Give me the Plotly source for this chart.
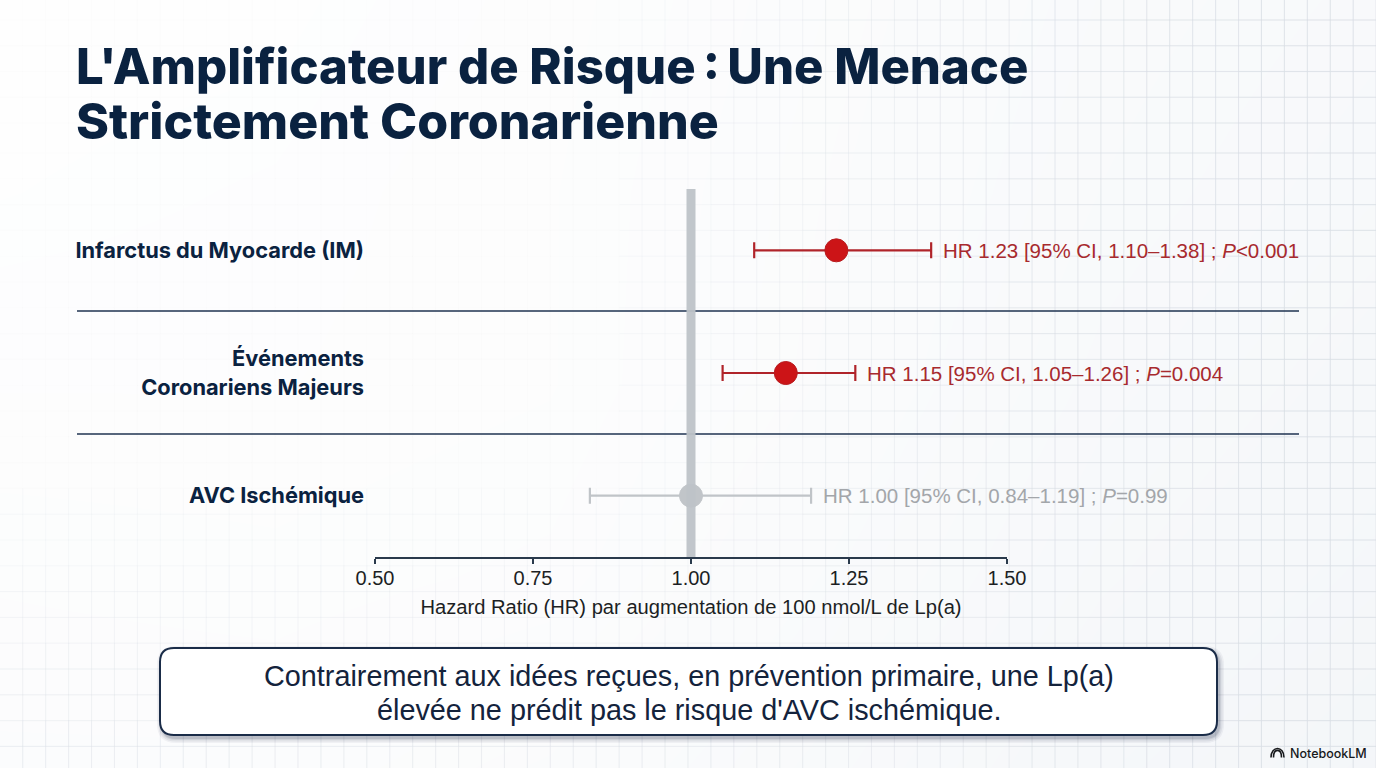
import plotly.graph_objects as go

# Forest plot data
outcomes = ["AVC Ischémique", "Événements<br>Coronariens Majeurs", "Infarctus du Myocarde (IM)"]
hazard_ratios = [1.00, 1.15, 1.23]
ci_low = [0.84, 1.05, 1.10]
ci_high = [1.19, 1.26, 1.38]
p_labels = ["=0.99", "=0.004", "<0.001"]
dot_colors = ["#c1c5c9", "#cc1417", "#cc1417"]
dot_edges = ["#c1c5c9", "#b81d20", "#b81d20"]
ci_colors = ["#c0c4c8", "#b0242a", "#b0242a"]
text_colors = ["#a3a6aa", "#a82a2e", "#a82a2e"]
x_ticks = [0.50, 0.75, 1.00, 1.25, 1.50]
reference_hr = 1.00

title_lines = ["L'Amplificateur de Risque\u202f:\u202fUne Menace", "Strictement Coronarienne"]
title_sizes = [49, 50]
axis_title = "Hazard Ratio (HR) par augmentation de 100 nmol/L de Lp(a)"
callout_lines = ["Contrairement aux idées reçues, en prévention primaire, une Lp(a)",
                 "élevée ne prédit pas le risque d'AVC ischémique."]

W, H = 1376, 768
NAVY = "#0a2240"
BODY = "Liberation Sans, Arial, sans-serif"
HEAD = "Inter, Liberation Sans, sans-serif"

fig = go.Figure()

# Page background: a very soft tint, darker towards the lower right
tint = [[0.02, 0.03, 0.10, 0.25, 0.42, 0.52],
        [0.04, 0.06, 0.12, 0.28, 0.46, 0.58],
        [0.08, 0.08, 0.12, 0.30, 0.52, 0.66],
        [0.16, 0.14, 0.18, 0.38, 0.60, 0.74],
        [0.22, 0.22, 0.30, 0.48, 0.70, 0.85]]
fig.add_trace(go.Heatmap(
    z=tint,
    x=[0, W / 5, 2 * W / 5, 3 * W / 5, 4 * W / 5, W],
    y=[0, H / 4, H / 2, 3 * H / 4, H],
    zsmooth="best", zmin=0, zmax=1, showscale=False, hoverinfo="skip",
    colorscale=[[0, "#fefefe"], [1, "#f2f5f8"]],
))

# Graph-paper lines that fade out over the centre and upper left of the page
grid_x = [22.7 + 22.94 * k for k in range(60)]
grid_y = [20 + 25.75 * k for k in range(5)] + [153 + 25.8 * k for k in range(24)]


def grid_strength(x, y):
    right = max(0.0, (x - 560) / 760)
    low = max(0.0, (y - 440) / 320) * 0.5
    return min(1.0, max(right, low))


levels = [0.08, 0.2, 0.32, 0.45, 0.6, 0.75, 0.9, 1.0]
buckets = {lv: ([], []) for lv in levels}
edges_y = [0] + grid_y + [H]
edges_x = [0] + grid_x + [W]
for gx in grid_x:
    for a, b in zip(edges_y[:-1], edges_y[1:]):
        s = grid_strength(gx, (a + b) / 2)
        lv = next(v for v in levels if s <= v)
        buckets[lv][0].extend([gx, gx, None])
        buckets[lv][1].extend([a, b, None])
for gy in grid_y:
    for a, b in zip(edges_x[:-1], edges_x[1:]):
        s = grid_strength((a + b) / 2, gy)
        lv = next(v for v in levels if s <= v)
        buckets[lv][0].extend([a, b, None])
        buckets[lv][1].extend([gy, gy, None])
for lv, (xs, ys) in buckets.items():
    if xs:
        fig.add_trace(go.Scatter(
            x=xs, y=ys, mode="lines", hoverinfo="skip", showlegend=False, connectgaps=False,
            line=dict(color=f"rgba(214,219,227,{lv * 0.7:.3f})", width=1.1),
        ))

# Rules separating the three rows
for rule_y in (311, 434):
    fig.add_trace(go.Scatter(
        x=[77, 1299], y=[rule_y, rule_y], mode="lines", hoverinfo="skip", showlegend=False,
        line=dict(color="#1f3350", width=1.5),
    ))

# One estimate with its confidence interval per row
for i, name in enumerate(outcomes):
    fig.add_trace(go.Scatter(
        x=[hazard_ratios[i]], y=[name], xaxis="x2", yaxis="y2", mode="markers",
        showlegend=False, hoverinfo="skip",
        marker=dict(size=23, color=dot_colors[i], line=dict(color=dot_edges[i], width=1)),
        error_x=dict(type="data", symmetric=False,
                     array=[ci_high[i] - hazard_ratios[i]],
                     arrayminus=[hazard_ratios[i] - ci_low[i]],
                     color=ci_colors[i], thickness=2.2, width=8),
    ))
    label = (f"HR {hazard_ratios[i]:.2f} [95% CI, {ci_low[i]:.2f}–{ci_high[i]:.2f}] ; "
             f"<i>P</i>{p_labels[i].replace('<', '&lt;')}")
    fig.add_annotation(
        text=label, x=ci_high[i], y=name, xref="x2", yref="y2", xanchor="left", yanchor="middle",
        xshift=10, showarrow=False, font=dict(family=BODY, size=20.5, color=text_colors[i]),
    )

# Vertical line of no effect, blending into the grey estimate that sits on it
fig.add_shape(type="line", xref="x2", yref="y2 domain", x0=reference_hr, x1=reference_hr,
              y0=0, y1=1, layer="above", line=dict(color="rgba(190,195,200,0.95)", width=9))

# Headline
for line, y, size in zip(title_lines, (66, 121), title_sizes):
    fig.add_annotation(
        text=line, x=77, y=y, xref="x", yref="y", xanchor="left", yanchor="middle", showarrow=False,
        xshift=-3, font=dict(family=HEAD, size=size, weight=800, color=NAVY),
    )

# Takeaway box with a soft drop shadow


def rounded_box(x0, y0, x1, y1, r):
    return (f"M{x0 + r},{y0} L{x1 - r},{y0} Q{x1},{y0} {x1},{y0 + r} L{x1},{y1 - r} "
            f"Q{x1},{y1} {x1 - r},{y1} L{x0 + r},{y1} Q{x0},{y1} {x0},{y1 - r} "
            f"L{x0},{y0 + r} Q{x0},{y0} {x0 + r},{y0} Z")


for grow, alpha in ((5, 0.05), (3.5, 0.07), (2, 0.09), (1, 0.12)):
    fig.add_shape(type="path", xref="x", yref="y", layer="above",
                  path=rounded_box(160 - grow + 2, 648 + 3 - grow, 1217 + grow + 2, 735 + 3 + grow, 14 + grow),
                  fillcolor=f"rgba(30,45,70,{alpha})", line=dict(width=0))
fig.add_shape(type="path", xref="x", yref="y", layer="above",
              path=rounded_box(160, 648, 1217, 735, 14),
              fillcolor="#ffffff", line=dict(color="#1a2c48", width=2))
for line, y in zip(callout_lines, (676, 710)):
    fig.add_annotation(
        text=line, x=689, y=y, xref="x", yref="y", xanchor="center", yanchor="middle", showarrow=False,
        font=dict(family=BODY, size=28.8, color="#14233c"),
    )

# Brand mark in the corner
fig.add_annotation(
    text="NotebookLM", x=1288, y=753, xref="x", yref="y", xanchor="left", yanchor="middle",
    showarrow=False, font=dict(family=HEAD, size=12.5, weight=500, color="#17191c"),
)
for r in (6.5, 4):
    fig.add_shape(type="path", xref="x", yref="y", layer="above",
                  path=f"M{1277.5 - r},757.5 C{1277.5 - r},{752 - r} {1277.5 + r},{752 - r} {1277.5 + r},757.5",
                  line=dict(color="#17191c", width=1.6))

fig.update_layout(
    width=W, height=H, margin=dict(l=0, r=0, t=0, b=0), autosize=False,
    paper_bgcolor="#fbfcfd", plot_bgcolor="rgba(0,0,0,0)", showlegend=False,
    xaxis=dict(range=[0, W], domain=[0, 1], visible=False, fixedrange=True, automargin=False),
    yaxis=dict(range=[H, 0], domain=[0, 1], visible=False, fixedrange=True, automargin=False),
    xaxis2=dict(
        domain=[375 / W, 1007 / W], range=[0.5, 1.5], anchor="y2", automargin=False,
        tickvals=x_ticks, ticktext=[f"{v:.2f}" for v in x_ticks],
        showgrid=False, zeroline=False, showline=True, linecolor="#2a3a4c", linewidth=1.5,
        ticks="outside", ticklen=5, tickwidth=1.5, tickcolor="#2a3a4c",
        ticklabelstandoff=-3,
        tickfont=dict(family=BODY, size=20, color="#1c1f24"),
        title=dict(text=axis_title, standoff=12, font=dict(family=BODY, size=20.15, color="#1c1f24")),
    ),
    yaxis2=dict(
        domain=[(H - 557) / H, (H - 189) / H], anchor="x2", automargin=False,
        type="category", categoryorder="array", categoryarray=outcomes, range=[-0.5, 2.5],
        showgrid=False, zeroline=False, showline=False, ticks="", ticklabelstandoff=10,
        tickfont=dict(family=HEAD, size=21.8, weight=700, color=NAVY),
    ),
)

fig.write_html("out.html")
